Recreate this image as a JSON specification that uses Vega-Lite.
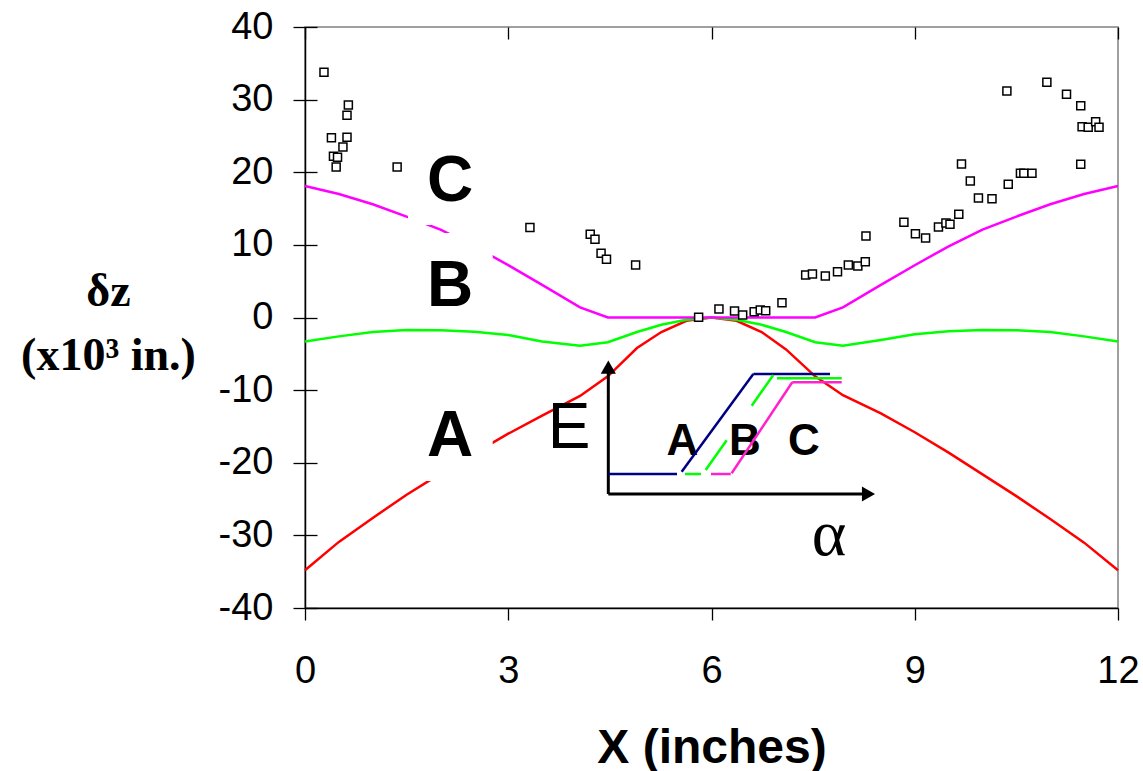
{
  "$schema": "https://vega.github.io/schema/vega-lite/v6.json",
  "width": 813,
  "height": 581,
  "autosize": {"type": "none"},
  "padding": {"left": 305, "top": 27, "right": 25, "bottom": 163},
  "background": "white",
  "config": {"view": {"stroke": "#808080", "strokeWidth": 1.5}, "font": "Liberation Sans"},
  "datasets": {
    "curves": [
      {"k":"A","x":0,"y":-34.8},{"k":"A","x":0.5,"y":-30.9},{"k":"A","x":1,"y":-27.6},{"k":"A","x":1.5,"y":-24.4},{"k":"A","x":2,"y":-21.5},{"k":"A","x":2.5,"y":-18.7},{"k":"A","x":3,"y":-16.0},{"k":"A","x":3.5,"y":-13.5},{"k":"A","x":4.06,"y":-10.8},{"k":"A","x":4.47,"y":-8.1},{"k":"A","x":4.9,"y":-4.2},{"k":"A","x":5.26,"y":-2.0},{"k":"A","x":5.63,"y":-0.45},{"k":"A","x":6,"y":0},{"k":"A","x":6.37,"y":-0.45},{"k":"A","x":6.74,"y":-2.0},{"k":"A","x":7.1,"y":-4.4},{"k":"A","x":7.53,"y":-8.1},{"k":"A","x":7.94,"y":-10.7},{"k":"A","x":8.5,"y":-13.2},{"k":"A","x":9,"y":-15.8},{"k":"A","x":9.5,"y":-18.6},{"k":"A","x":10,"y":-21.6},{"k":"A","x":10.5,"y":-24.6},{"k":"A","x":11,"y":-27.75},{"k":"A","x":11.5,"y":-31.0},{"k":"A","x":12,"y":-34.8},
      {"k":"B","x":0,"y":-3.3},{"k":"B","x":0.5,"y":-2.6},{"k":"B","x":1,"y":-2.0},{"k":"B","x":1.5,"y":-1.72},{"k":"B","x":2,"y":-1.75},{"k":"B","x":2.5,"y":-1.95},{"k":"B","x":3,"y":-2.4},{"k":"B","x":3.5,"y":-3.3},{"k":"B","x":4.06,"y":-3.9},{"k":"B","x":4.47,"y":-3.4},{"k":"B","x":4.9,"y":-2.0},{"k":"B","x":5.26,"y":-1.0},{"k":"B","x":5.63,"y":-0.3},{"k":"B","x":6,"y":0},{"k":"B","x":6.37,"y":-0.3},{"k":"B","x":6.74,"y":-1.0},{"k":"B","x":7.1,"y":-2.0},{"k":"B","x":7.53,"y":-3.4},{"k":"B","x":7.94,"y":-3.9},{"k":"B","x":8.5,"y":-3.1},{"k":"B","x":9,"y":-2.3},{"k":"B","x":9.5,"y":-1.9},{"k":"B","x":10,"y":-1.72},{"k":"B","x":10.5,"y":-1.75},{"k":"B","x":11,"y":-2.0},{"k":"B","x":11.5,"y":-2.6},{"k":"B","x":12,"y":-3.3},
      {"k":"C","x":0,"y":18.1},{"k":"C","x":0.5,"y":17.0},{"k":"C","x":1,"y":15.6},{"k":"C","x":1.5,"y":13.9},{"k":"C","x":2,"y":12.1},{"k":"C","x":2.5,"y":9.8},{"k":"C","x":3,"y":7.2},{"k":"C","x":3.5,"y":4.5},{"k":"C","x":4.06,"y":1.4},{"k":"C","x":4.47,"y":0},{"k":"C","x":4.9,"y":0},{"k":"C","x":5.26,"y":0},{"k":"C","x":5.63,"y":0},{"k":"C","x":6,"y":0},{"k":"C","x":6.37,"y":0},{"k":"C","x":6.74,"y":0},{"k":"C","x":7.1,"y":0},{"k":"C","x":7.53,"y":0},{"k":"C","x":7.94,"y":1.4},{"k":"C","x":8.5,"y":4.5},{"k":"C","x":9,"y":7.2},{"k":"C","x":9.5,"y":9.8},{"k":"C","x":10,"y":12.1},{"k":"C","x":10.5,"y":13.9},{"k":"C","x":11,"y":15.6},{"k":"C","x":11.5,"y":17.0},{"k":"C","x":12,"y":18.1}
    ],
    "boxes": [
      {"x":1.52,"x2":2.77,"y":26.1,"y2":12.74},
      {"x":1.52,"x2":2.77,"y":11.63,"y2":-0.62},
      {"x":1.52,"x2":2.77,"y":-9.3,"y2":-22.5}
    ],
    "measured": [
      {"x":0.28,"y":33.76},{"x":0.64,"y":29.26},{"x":0.62,"y":27.84},{"x":0.39,"y":24.76},{"x":0.62,"y":24.81},{"x":0.56,"y":23.48},{"x":0.42,"y":22.2},{"x":0.48,"y":22.06},{"x":0.46,"y":20.72},{"x":1.36,"y":20.72},
      {"x":3.32,"y":12.4},{"x":4.21,"y":11.45},{"x":4.28,"y":10.77},{"x":4.37,"y":8.84},{"x":4.45,"y":8.01},{"x":4.88,"y":7.23},{"x":5.81,"y":0.03},
      {"x":6.11,"y":1.17},{"x":6.34,"y":0.9},{"x":6.46,"y":0.34},{"x":6.63,"y":0.8},{"x":6.72,"y":1.03},{"x":6.8,"y":0.94},{"x":7.04,"y":2.04},{"x":7.39,"y":5.85},{"x":7.49,"y":5.99},{"x":7.68,"y":5.71},{"x":7.86,"y":6.31},{"x":8.02,"y":7.23},{"x":8.16,"y":7.09},{"x":8.27,"y":7.68},{"x":8.28,"y":11.22},
      {"x":8.84,"y":13.11},{"x":9.01,"y":11.54},{"x":9.16,"y":10.95},{"x":9.35,"y":12.46},{"x":9.46,"y":13.01},{"x":9.52,"y":12.83},{"x":9.65,"y":14.21},{"x":9.69,"y":21.14},{"x":9.82,"y":18.8},{"x":9.94,"y":16.45},{"x":10.14,"y":16.36},{"x":10.38,"y":18.34},{"x":10.56,"y":19.85},{"x":10.61,"y":19.85},{"x":10.73,"y":19.85},
      {"x":10.36,"y":31.19},{"x":10.95,"y":32.38},{"x":11.24,"y":30.73},{"x":11.45,"y":29.16},{"x":11.47,"y":26.27},{"x":11.56,"y":26.19},{"x":11.67,"y":26.96},{"x":11.72,"y":26.19},{"x":11.45,"y":21.09}
    ],
    "bigLabels": [
      {"x":2.14,"y":16.1,"t":"C"},{"x":2.14,"y":1.58,"t":"B"},{"x":2.14,"y":-19.07,"t":"A"}
    ],
    "insetAxes": [
      {"x":4.477,"y":-24.3,"x2":4.477,"y2":-6.9},
      {"x":4.477,"y":-24.3,"x2":8.3,"y2":-24.3}
    ],
    "arrowHeads": [
      {"x":4.477,"y":-6.84,"s":"triangle-up"},
      {"x":8.317,"y":-24.3,"s":"triangle-right"}
    ],
    "insetSegs": [
      {"k":"iA","x":4.477,"y":-21.55,"x2":5.491,"y2":-21.55},
      {"k":"iA","x":5.56,"y":-21.23,"x2":6.617,"y2":-7.78},
      {"k":"iA","x":6.617,"y":-7.78,"x2":7.749,"y2":-7.78},
      {"k":"iB","x":5.609,"y":-21.55,"x2":5.845,"y2":-21.55},
      {"k":"iB","x":5.914,"y":-21.0,"x2":6.224,"y2":-16.9},
      {"k":"iB","x":6.593,"y":-12.15,"x2":6.912,"y2":-7.92},
      {"k":"iB","x":6.967,"y":-8.37,"x2":7.922,"y2":-8.37},
      {"k":"iC","x":5.993,"y":-21.55,"x2":6.284,"y2":-21.55},
      {"k":"iC","x":6.298,"y":-21.45,"x2":7.192,"y2":-8.92},
      {"k":"iC","x":7.192,"y":-8.92,"x2":7.922,"y2":-8.92}
    ],
    "insetE": [{"x":3.897,"y":-17.97,"t":"E"}],
    "insetLabels": [
      {"x":5.572,"y":-18.93,"t":"A"},{"x":6.494,"y":-18.93,"t":"B"},{"x":7.365,"y":-18.93,"t":"C"}
    ],
    "alpha": [{"x":7.734,"y":-32.7,"t":"α"}]
  },
  "layer": [
    {
      "data": {"name": "curves"},
      "mark": {"type": "line", "strokeWidth": 2.5},
      "encoding": {
        "x": {
          "field": "x", "type": "quantitative",
          "scale": {"domain": [0, 12], "nice": false, "zero": false},
          "axis": {
            "values": [0, 3, 6, 9, 12],
            "labelExpr": "toString(datum.value)",
            "title": "X (inches)",
            "titleFont": "Liberation Sans", "titleFontSize": 48, "titleFontWeight": "bold", "titleColor": "black",
            "titleBaseline": "alphabetic", "titleY": 154,
            "labelFont": "Liberation Sans", "labelFontSize": 38, "labelColor": "black", "labelPadding": 32,
            "labelFlush": false, "labelOverlap": false,
            "tickSize": 12, "tickColor": "black", "tickWidth": 1.3,
            "domainColor": "black", "domainWidth": 1.5,
            "grid": true, "gridColor": "black", "gridWidth": 1.3, "gridDash": [12, 2000], "gridOpacity": 1
          }
        },
        "y": {
          "field": "y", "type": "quantitative",
          "scale": {"domain": [-40, 40], "nice": false, "zero": false},
          "axis": {
            "values": [-40, -30, -20, -10, 0, 10, 20, 30, 40],
            "labelExpr": "toString(datum.value)",
            "title": ["δz", "(x10³ in.)"],
            "titleFont": "Liberation Serif", "titleFontSize": 46, "titleFontWeight": "bold", "titleColor": "black",
            "titleAngle": 0, "titleAlign": "center", "titleBaseline": "alphabetic",
            "titleX": -197, "titleY": 278, "titleLineHeight": 64,
            "labelFont": "Liberation Sans", "labelFontSize": 38, "labelColor": "black", "labelPadding": 20,
            "labelFlush": false, "labelOverlap": false,
            "tickSize": 12, "tickColor": "black", "tickWidth": 1.3,
            "domainColor": "black", "domainWidth": 1.5,
            "grid": true, "gridColor": "black", "gridWidth": 1.3, "gridDash": [12, 2000], "gridOpacity": 1
          }
        },
        "color": {
          "field": "k", "type": "nominal", "legend": null,
          "scale": {"domain": ["A", "B", "C", "iA", "iB", "iC"], "range": ["#FF0000", "#00FF00", "#FF00FF", "#000080", "#00FF00", "#FF22CC"]}
        }
      }
    },
    {
      "data": {"name": "boxes"},
      "mark": {"type": "rect", "fill": "white"},
      "encoding": {
        "x": {"field": "x", "type": "quantitative"},
        "x2": {"field": "x2"},
        "y": {"field": "y", "type": "quantitative"},
        "y2": {"field": "y2"}
      }
    },
    {
      "data": {"name": "measured"},
      "mark": {"type": "point", "shape": "square", "size": 64, "filled": false, "fill": "white", "fillOpacity": 1, "stroke": "black", "strokeWidth": 1.5, "opacity": 1},
      "encoding": {
        "x": {"field": "x", "type": "quantitative"},
        "y": {"field": "y", "type": "quantitative"}
      }
    },
    {
      "data": {"name": "bigLabels"},
      "mark": {"type": "text", "font": "Liberation Sans", "fontSize": 64, "fontWeight": "bold", "align": "center", "baseline": "alphabetic", "color": "black"},
      "encoding": {
        "x": {"field": "x", "type": "quantitative"},
        "y": {"field": "y", "type": "quantitative"},
        "text": {"field": "t"}
      }
    },
    {
      "data": {"name": "insetE"},
      "mark": {"type": "text", "font": "Liberation Sans", "fontSize": 64, "align": "center", "baseline": "alphabetic", "color": "black"},
      "encoding": {
        "x": {"field": "x", "type": "quantitative"},
        "y": {"field": "y", "type": "quantitative"},
        "text": {"field": "t"}
      }
    },
    {
      "data": {"name": "insetLabels"},
      "mark": {"type": "text", "font": "Liberation Sans", "fontSize": 44, "fontWeight": "bold", "align": "center", "baseline": "alphabetic", "color": "black"},
      "encoding": {
        "x": {"field": "x", "type": "quantitative"},
        "y": {"field": "y", "type": "quantitative"},
        "text": {"field": "t"}
      }
    },
    {
      "data": {"name": "alpha"},
      "mark": {"type": "text", "font": "Liberation Serif", "fontSize": 66, "align": "center", "baseline": "alphabetic", "color": "black"},
      "encoding": {
        "x": {"field": "x", "type": "quantitative"},
        "y": {"field": "y", "type": "quantitative"},
        "text": {"field": "t"}
      }
    },
    {
      "data": {"name": "insetAxes"},
      "mark": {"type": "rule", "color": "black", "strokeWidth": 3},
      "encoding": {
        "x": {"field": "x", "type": "quantitative"},
        "y": {"field": "y", "type": "quantitative"},
        "x2": {"field": "x2"},
        "y2": {"field": "y2"}
      }
    },
    {
      "data": {"name": "arrowHeads"},
      "mark": {"type": "point", "filled": true, "color": "black", "size": 230, "opacity": 1},
      "encoding": {
        "x": {"field": "x", "type": "quantitative"},
        "y": {"field": "y", "type": "quantitative"},
        "shape": {"field": "s", "type": "nominal", "scale": null}
      }
    },
    {
      "data": {"name": "insetSegs"},
      "mark": {"type": "rule", "strokeWidth": 2.5},
      "encoding": {
        "x": {"field": "x", "type": "quantitative"},
        "y": {"field": "y", "type": "quantitative"},
        "x2": {"field": "x2"},
        "y2": {"field": "y2"},
        "color": {"field": "k", "type": "nominal", "legend": null}
      }
    }
  ]
}
